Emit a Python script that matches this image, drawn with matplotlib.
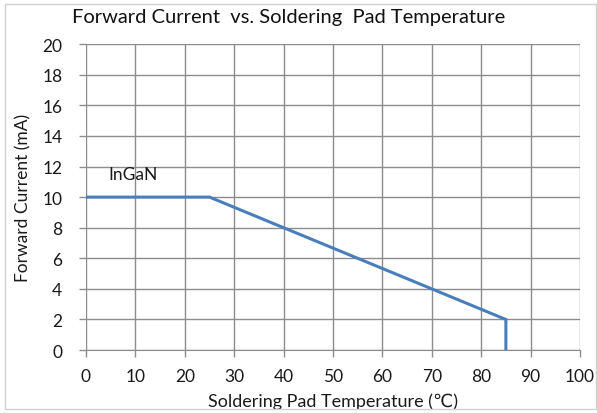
import numpy as np
import matplotlib
matplotlib.use('Agg')
from matplotlib import pyplot as plt
from matplotlib.patches import Rectangle

plt.rcParams['font.family'] = ['Lato', 'DejaVu Sans']

# derating curve points
temp = [0, 25, 85, 85]
current = [10, 10, 2, 0]
xticks = list(range(0, 101, 10))
yticks = list(range(0, 21, 2))

fig = plt.figure(figsize=(5.97, 4.14), dpi=100)
ax = fig.add_axes([0.144, 0.152, 0.8275, 0.739])

# outer frame
fig.patches.append(Rectangle((0.009, 0.01), 0.99, 0.978, transform=fig.transFigure,
                             fill=False, edgecolor='#d0d0d0', linewidth=1))

ax.plot(temp, current, color='#4a7ebb', linewidth=2.2, solid_joinstyle='miter')
ax.text(9.6, 11.5, 'InGaN', fontsize=12.5, ha='center', va='center', color='#1a1a1a')

ax.set_xlim(0, 100)
ax.set_ylim(0, 20)
ax.set_xticks(xticks)
ax.set_yticks(yticks)
ax.grid(True, color='#8c8c8c', linewidth=1)
ax.set_axisbelow(True)
for s in ['top', 'right']:
    ax.spines[s].set_visible(False)
ax.spines['left'].set_visible(False)
ax.spines['bottom'].set_color('#8c8c8c')
ax.tick_params(axis='both', colors='#8c8c8c', labelcolor='#1a1a1a', labelsize=12.5, length=5, width=1)
ax.tick_params(axis='y', pad=12)
ax.tick_params(axis='x', pad=8)

fig.text(289 / 597, 1 - 18 / 414, 'Forward Current  vs. Soldering  Pad Temperature',
         fontsize=14.5, ha='center', va='center', color='#111111')
ax.set_xlabel('Soldering Pad Temperature (\u2103)', fontsize=13, color='#1a1a1a', labelpad=6)
ax.set_ylabel('Forward Current (mA)', fontsize=12.5, color='#1a1a1a', labelpad=8)

fig.savefig('out.png', dpi=100)
